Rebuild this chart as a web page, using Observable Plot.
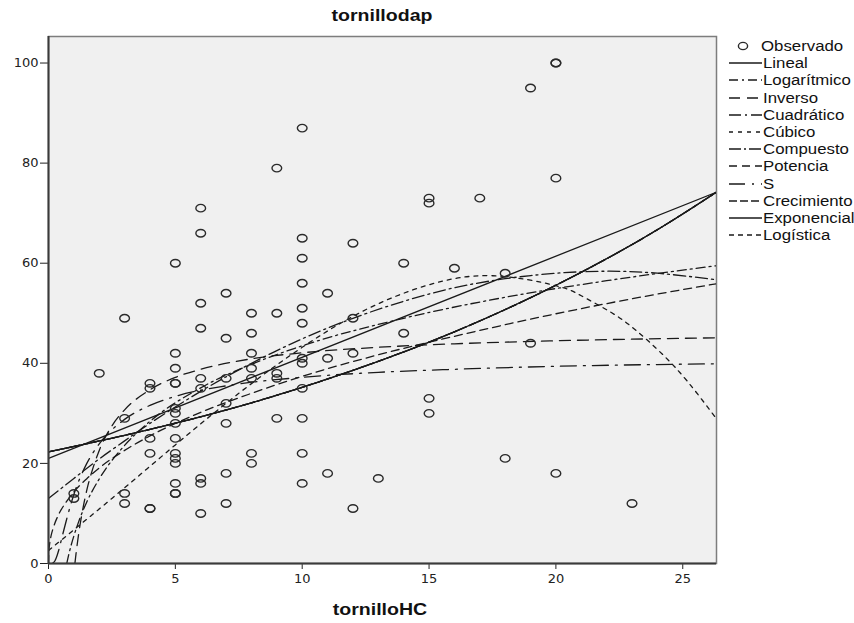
<!DOCTYPE html>
<html><head><meta charset="utf-8">
<script src="https://cdn.jsdelivr.net/npm/d3@7"></script>
<script src="https://cdn.jsdelivr.net/npm/@observablehq/plot@0.6"></script>
<style>
body{margin:0;background:#fff;}
#wrap{position:relative;width:854px;height:623px;font-family:"Liberation Sans",Arial,sans-serif;color:#111;overflow:hidden;}
#chart{position:absolute;left:0;top:0;}
.ttl{position:absolute;white-space:nowrap;font-weight:bold;font-size:16px;line-height:16px;transform:translateX(-50%) scaleX(1.22);transform-origin:center;}
.lg{position:absolute;left:729px;height:16px;white-space:nowrap;font-size:14px;line-height:16px;}
.lg svg{position:absolute;left:0;top:3px;}
.lg span{position:absolute;left:34px;top:0;transform:scaleX(1.2);transform-origin:left center;}
</style></head><body>
<div id="wrap"><div id="chart"></div></div>
<script>
// ---- observed points (tornilloHC, tornillodap) ----
const obsX = [1,1, 2, 3,3,3,3, 4,4,4,4,4,4,
  5,5,5,5,5,5,5,5,5,5,5,5,5,5,5,
  6,6,6,6,6,6,6,6,6, 7,7,7,7,7,7,7, 8,8,8,8,8,8,8, 9,9,9,9,9,
  10,10,10,10,10,10,10,10,10,10,10,10, 11,11,11, 12,12,12,12, 13, 14,14,
  15,15,15,15, 16, 17, 18,18, 19,19, 20,20,20,20, 23];
const obsY = [14,13, 38, 49,29,14,12, 36,35,25,22,11,11,
  60,42,39,36,36,31,30,28,25,22,21,20,16,14,14,
  71,66,52,47,37,35,17,16,10, 54,45,37,32,28,18,12, 50,46,42,39,37,22,20, 79,50,38,37,29,
  87,65,61,56,51,48,41,40,35,29,22,16, 54,41,18, 64,49,42,11, 17, 60,46,
  73,72,33,30, 59, 73, 58,21, 95,44, 100,100,77,18, 12];

// ---- fitted curves ----
const linealX = [0, 26.33];
const linealY = [21.0, 74.2];
const logX = [0.72,0.8,0.9,1,1.2,1.5,2,3,4,6,8,10,14,18,22,26.33];
const logY = [0,1.8,3.8,5.5,8.5,12.2,16.9,23.6,28.4,35.1,39.8,43.5,49.0,53.2,56.5,59.5];
const invX = [1.04,1.07,1.1,1.15,1.2,1.3,1.4,1.55,1.7,2,2.5,3,4,5,6,8,10,13,16,20,26.33];
const invY = [0,1.3,2.6,4.5,6.3,9.4,12.1,15.5,18.2,22.6,27.5,30.7,34.7,37.2,38.8,40.9,42.1,43.2,43.9,44.5,45.1];
const quadX = [0,1,2,3,4,6,8,10,12,14,16,18,20,22,24,26.33];
const quadY = [13,17,20.9,24.5,28,34.4,40,44.9,49,52.4,55.1,56.9,58,58.4,58,56.7];
const cubX = [0,2.5,5,7.5,10,12.5,15,17.5,20,21,22.2,23.2,24.2,25.2,26.33];
const cubY = [2.6,13,23.7,34,43.2,50.7,55.7,57.5,55.5,53.5,50.1,46.4,41.8,36.3,28.9];
const compX = [0,4,8,12,16,20,24,26.33];
const compY = [22.3,26.8,32.1,38.6,46.3,55.6,66.7,74.2];
const powX = [0,0.005,0.02,0.05,0.1,0.2,0.4,0.7,1,1.5,2,3,4,6,8,10,13,16,20,23,26.33];
const powY = [0,1.6,2.8,4.1,5.5,7.3,9.8,12.3,14.3,16.9,19.1,22.6,25.5,30.2,34,37.4,41.7,45.4,49.9,52.9,55.9];
const sX = [0.15,0.2,0.25,0.3,0.4,0.5,0.6,0.75,1,1.5,2,3,4,5,7,10,13,16,20,26.33];
const sY = [0,0.2,0.5,1.05,2.6,4.6,6.6,9.5,13.8,19.9,23.9,28.8,31.6,33.4,35.5,37.2,38.2,38.8,39.4,39.9];

const xTicks = [0,5,10,15,20,25];
const yTicks = [0,20,40,60,80,100];
const legendNames = ["Lineal","Logarítmico","Inverso","Cuadrático","Cúbico","Compuesto","Potencia","S","Crecimiento","Exponencial","Logística"];

// ---- build ----
const pts = (xs, ys) => xs.map((x, i) => ({x, y: ys[i]}));
const models = [
  {name:"Lineal", data: pts(linealX, linealY), dash: null, curve:"linear"},
  {name:"Logarítmico", data: pts(logX, logY), dash: "9,4,2,4", curve:"monotone-x"},
  {name:"Inverso", data: pts(invX, invY), dash: "11,7", curve:"monotone-x"},
  {name:"Cuadrático", data: pts(quadX, quadY), dash: "12,4,2,4", curve:"natural"},
  {name:"Cúbico", data: pts(cubX, cubY), dash: "4,5", curve:"natural"},
  {name:"Compuesto", data: pts(compX, compY), dash: "12,3,2,3", curve:"monotone-x"},
  {name:"Potencia", data: pts(powX, powY), dash: "8,5", curve:"monotone-x"},
  {name:"S", data: pts(sX, sY), dash: "16,7,2,7", curve:"monotone-x"},
  {name:"Crecimiento", data: pts(compX, compY), dash: "8,3", curve:"monotone-x"},
  {name:"Exponencial", data: pts(compX, compY), dash: null, curve:"monotone-x"},
  {name:"Logística", data: pts(compX, compY), dash: "5,4", curve:"monotone-x"}
];

const ellipse = {
  draw(ctx, size) {
    const r = Math.sqrt(size / Math.PI), rx = r * 1.1, ry = r * 0.85, k = 0.5523;
    ctx.moveTo(rx, 0);
    ctx.bezierCurveTo(rx, ry * k, rx * k, ry, 0, ry);
    ctx.bezierCurveTo(-rx * k, ry, -rx, ry * k, -rx, 0);
    ctx.bezierCurveTo(-rx, -ry * k, -rx * k, -ry, 0, -ry);
    ctx.bezierCurveTo(rx * k, -ry, rx, -ry * k, rx, 0);
    ctx.closePath();
  }
};

const lineMarks = models.map(m => Plot.line(m.data, {
  x: "x", y: "y", stroke: "#1a1a1a", strokeWidth: 1.3,
  strokeDasharray: m.dash || undefined, curve: m.curve, clip: true
}));

const chart = Plot.plot({
  width: 720, height: 623,
  marginTop: 36, marginBottom: 60, marginLeft: 48, marginRight: 4,
  style: "font: 13px 'DejaVu Sans', sans-serif; color: #222; background: transparent; overflow: visible;",
  x: {domain: [0, 26.33], ticks: xTicks, tickSize: 6, tickPadding: 4, label: null},
  y: {domain: [0, 105.3], ticks: yTicks, tickSize: 8, tickPadding: 2, label: null},
  marks: [
    Plot.frame({fill: "#f0f0f0", stroke: "#7d7d7d", strokeWidth: 1.5}),
    ...lineMarks,
    Plot.dot(pts(obsX, obsY), {x: "x", y: "y", r: 4.4, symbol: ellipse, stroke: "#2a2a2a", strokeWidth: 1.4, fill: "none"}),
    Plot.ruleX([0], {stroke: "#3a3a3a", strokeWidth: 2}),
    Plot.ruleY([0], {stroke: "#3a3a3a", strokeWidth: 2})
  ]
});
document.getElementById("chart").appendChild(chart);

const wrap = document.getElementById("wrap");
function addText(cls, txt, left, top) {
  const d = document.createElement("div");
  d.className = cls; d.textContent = txt;
  d.style.left = left + "px"; d.style.top = top + "px";
  wrap.appendChild(d);
}
addText("ttl", "tornillodap", 382, 8);
addText("ttl", "tornilloHC", 380, 602);

// legend
const rowY0 = 38, rowStep = 17.2;
const obsRow = document.createElement("div");
obsRow.className = "lg"; obsRow.style.top = rowY0 + "px";
obsRow.innerHTML = '<svg width="32" height="10"><ellipse cx="14" cy="5" rx="4.6" ry="3.6" fill="none" stroke="#2a2a2a" stroke-width="1.4"/></svg><span style="left:32px">Observado</span>';
wrap.appendChild(obsRow);
legendNames.forEach((name, i) => {
  const m = models.find(mm => mm.name === name);
  const row = document.createElement("div");
  row.className = "lg";
  row.style.top = (rowY0 + rowStep * (i + 1)) + "px";
  row.innerHTML = '<svg width="34" height="10"><line x1="0" x2="33" y1="5" y2="5" stroke="#1a1a1a" stroke-width="1.3"' +
    (m.dash ? ' stroke-dasharray="' + m.dash + '"' : '') + '/></svg><span>' + name + '</span>';
  wrap.appendChild(row);
});
</script>
</body></html>
